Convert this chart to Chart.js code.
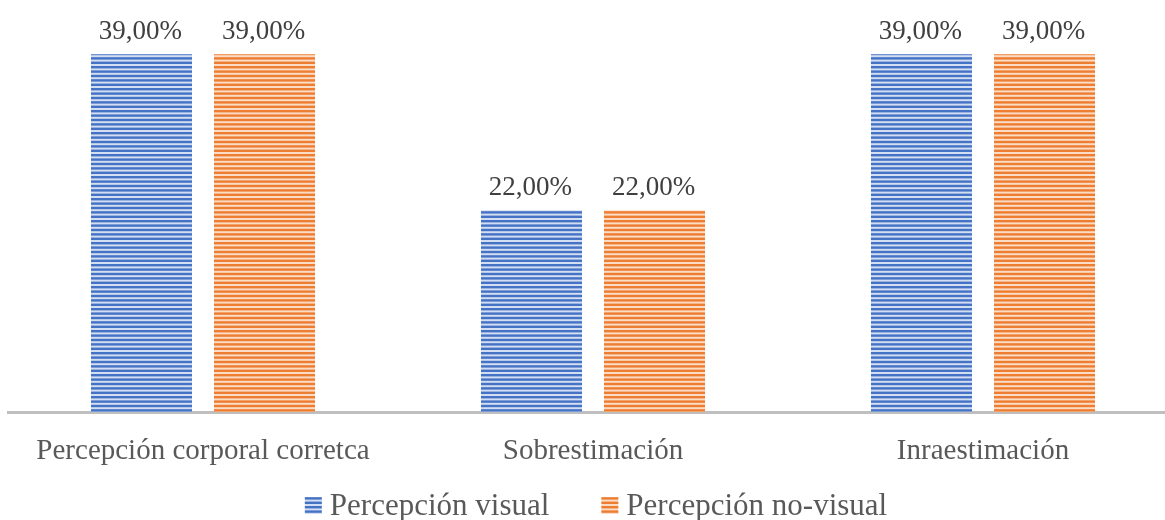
<!DOCTYPE html>
<html lang="es">
<head>
<meta charset="utf-8">
<title>Percepción corporal</title>
<script src="https://cdn.jsdelivr.net/npm/chart.js@4.4.1/dist/chart.umd.min.js"></script>
<style>
  html, body { margin: 0; padding: 0; background: #ffffff; overflow: hidden; }
  #wrap { position: relative; width: 1180px; height: 520px; }
</style>
</head>
<body>
<div id="wrap"><canvas id="chart"></canvas></div>
<script>
// Categories and series
const categories = ['Percepción corporal corretca', 'Sobrestimación', 'Inraestimación'];
const seriesNames = ['Percepción visual', 'Percepción no-visual'];
const visualValues = [39, 22, 39];
const noVisualValues = [39, 22, 39];

const SERIF = '"Liberation Serif", "Times New Roman", serif';

// Horizontal stripe fill (5 stripes per 22px tile)
function stripes(dark, light) {
  const c = document.createElement('canvas');
  c.width = 8; c.height = 22;
  const g = c.getContext('2d');
  g.fillStyle = light;
  g.fillRect(0, 0, 8, 22);
  g.fillStyle = dark;
  for (let i = 0; i < 5; i++) {
    g.fillRect(0, i * 4.4, 8, 2.4);
  }
  return g.createPattern(c, 'repeat');
}
const blueFill = stripes('#4472c4', '#d3def2');
const orangeFill = stripes('#ed7d31', '#fbdcc6');

function fmt(v) {
  return v.toFixed(2).replace('.', ',') + '%';
}

// Value labels above each bar
const valueLabels = {
  id: 'valueLabels',
  afterDatasetsDraw(chart) {
    const ctx = chart.ctx;
    ctx.save();
    ctx.font = '27px ' + SERIF;
    ctx.fillStyle = '#404040';
    ctx.textAlign = 'center';
    ctx.textBaseline = 'alphabetic';
    chart.data.datasets.forEach((ds, i) => {
      chart.getDatasetMeta(i).data.forEach((bar, j) => {
        ctx.fillText(fmt(ds.data[j]), bar.x - 1, bar.y - 15);
      });
    });
    ctx.restore();
  }
};

// Legend row under the category labels
const bottomLegend = {
  id: 'bottomLegend',
  afterDraw(chart) {
    const ctx = chart.ctx;
    const box = 17, gapText = 8, gapItem = 52;
    ctx.save();
    ctx.font = '31px ' + SERIF;
    ctx.textBaseline = 'alphabetic';
    const items = chart.data.datasets.map(ds => ({
      label: ds.label, fill: ds.backgroundColor, w: ctx.measureText(ds.label).width
    }));
    let total = 0;
    items.forEach((it, i) => { total += box + gapText + it.w + (i ? gapItem : 0); });
    const area = chart.chartArea;
    let x = (area.left + area.right) / 2 - total / 2 + 3;
    const baseline = 515;
    items.forEach(it => {
      ctx.fillStyle = it.fill;
      ctx.fillRect(x, baseline - 18, box, box);
      ctx.fillStyle = '#595959';
      ctx.fillText(it.label, x + box + gapText, baseline);
      x += box + gapText + it.w + gapItem;
    });
    ctx.restore();
  }
};

new Chart(document.getElementById('chart'), {
  type: 'bar',
  data: {
    labels: categories,
    datasets: [
      { label: seriesNames[0], data: visualValues, backgroundColor: blueFill },
      { label: seriesNames[1], data: noVisualValues, backgroundColor: orangeFill }
    ]
  },
  options: {
    responsive: true,
    maintainAspectRatio: false,
    animation: false,
    datasets: { bar: { categoryPercentage: 0.631, barPercentage: 0.821 } },
    layout: { padding: { left: 8, right: 2, top: 45, bottom: 0 } },
    plugins: { legend: { display: false }, tooltip: { enabled: false } },
    scales: {
      x: {
        grid: { display: false, drawTicks: false },
        border: { display: true, color: '#bfbfbf', width: 3 },
        ticks: { font: { family: SERIF, size: 29 }, color: '#595959', padding: 22, maxRotation: 0 },
        afterFit(scale) { scale.height = 108; }
      },
      y: { display: false, min: 0, max: 40 }
    }
  },
  plugins: [valueLabels, bottomLegend]
});
</script>
</body>
</html>
